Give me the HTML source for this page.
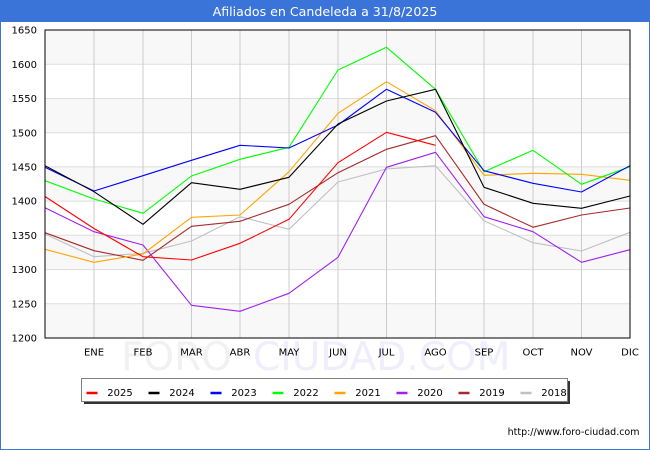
<!DOCTYPE html>
<html>
<head>
<meta charset="utf-8">
<style>
  html, body { margin:0; padding:0; background:#fff; }
  svg { display:block; }
  text { font-family: "DejaVu Sans", "Liberation Sans", sans-serif; }
</style>
</head>
<body>
<svg width="650" height="450" viewBox="0 0 650 450" xmlns="http://www.w3.org/2000/svg">
  <!-- outer frame -->
  <rect x="0" y="0" width="650" height="450" fill="#ffffff"/>
  <rect x="0.5" y="0.5" width="649" height="449" fill="none" stroke="#3a78d6" stroke-width="1"/>
  <!-- title bar -->
  <rect x="0" y="0" width="650" height="22" fill="#3a74d8"/>
  <text x="325" y="16" text-anchor="middle" font-size="12.6" fill="#ffffff">Afiliados en Candeleda a 31/8/2025</text>

  <!-- watermark -->
  <text x="232" y="370" text-anchor="end" font-size="39" fill="#f1f1f1">FORO</text>
  <text x="253" y="370" font-size="39" fill="#eeeefc">CIUDAD.COM</text>

  <!-- plot bands -->
  <rect x="45" y="30" width="585" height="34.2" fill="#f8f8f8"/>
  <rect x="45" y="98.5" width="585" height="34.2" fill="#f8f8f8"/>
  <rect x="45" y="166.9" width="585" height="34.2" fill="#f8f8f8"/>
  <rect x="45" y="235.3" width="585" height="34.3" fill="#f8f8f8"/>
  <rect x="45" y="303.8" width="585" height="34.2" fill="#f8f8f8"/>

  <!-- horizontal grid -->
  <g stroke="#dddddd" stroke-width="1">
    <line x1="45" y1="64.2" x2="630" y2="64.2"/>
    <line x1="45" y1="98.5" x2="630" y2="98.5"/>
    <line x1="45" y1="132.7" x2="630" y2="132.7"/>
    <line x1="45" y1="166.9" x2="630" y2="166.9"/>
    <line x1="45" y1="201.1" x2="630" y2="201.1"/>
    <line x1="45" y1="235.3" x2="630" y2="235.3"/>
    <line x1="45" y1="269.6" x2="630" y2="269.6"/>
    <line x1="45" y1="303.8" x2="630" y2="303.8"/>
  </g>
  <!-- vertical grid -->
  <g stroke="#cccccc" stroke-width="1">
    <line x1="94" y1="30" x2="94" y2="338"/>
    <line x1="143" y1="30" x2="143" y2="338"/>
    <line x1="191.5" y1="30" x2="191.5" y2="338"/>
    <line x1="240" y1="30" x2="240" y2="338"/>
    <line x1="289" y1="30" x2="289" y2="338"/>
    <line x1="338" y1="30" x2="338" y2="338"/>
    <line x1="386.5" y1="30" x2="386.5" y2="338"/>
    <line x1="435.5" y1="30" x2="435.5" y2="338"/>
    <line x1="484" y1="30" x2="484" y2="338"/>
    <line x1="533" y1="30" x2="533" y2="338"/>
    <line x1="581.5" y1="30" x2="581.5" y2="338"/>
  </g>

  <!-- series -->
  <g fill="none" stroke-width="1.1" stroke-linejoin="round">
    <polyline stroke="#c0c0c0" points="45,234 94,256.7 143,253.3 191.5,241 240,216.7 289,229.3 338,182 386.5,169 435.5,165.7 484,220.7 533,242.7 581.5,251 630,232.3"/>
    <polyline stroke="#a52a2a" points="45,232.7 94,250.7 143,260.3 191.5,226.3 240,221.3 289,204.3 338,172.7 386.5,149.3 435.5,135.7 484,204.3 533,227.3 581.5,215 630,208"/>
    <polyline stroke="#a020f0" points="45,207.7 94,231.7 143,245 191.5,305.3 240,311.3 289,293.3 338,257.3 386.5,167.3 435.5,152.3 484,216.7 533,231.7 581.5,262.3 630,249.7"/>
    <polyline stroke="#ffa500" points="45,249.3 94,262.3 143,254 191.5,217.3 240,215 289,171.7 338,113.3 386.5,81.7 435.5,110.7 484,175.3 533,173.3 581.5,174.3 630,180.3"/>
    <polyline stroke="#00ff00" points="45,180.7 94,199 143,213.3 191.5,176 240,159.3 289,147.3 338,70 386.5,47.3 435.5,89.3 484,171.7 533,150.3 581.5,184.3 630,166.7"/>
    <polyline stroke="#0000ff" points="45,167.3 94,191 143,175.7 191.5,160.3 240,145.3 289,148 338,125 386.5,89.3 435.5,112.3 484,170.7 533,183.3 581.5,192 630,165.7"/>
    <polyline stroke="#000000" points="45,165.7 94,191.7 143,224.3 191.5,182.7 240,189.3 289,177.3 338,124 386.5,101 435.5,89.3 484,187.3 533,203.3 581.5,208.3 630,196"/>
    <polyline stroke="#ff0000" points="45,196.5 94,228.5 143,256.7 191.5,260 240,243.3 289,219.3 338,162.7 386.5,132.3 435.5,145.3"/>
  </g>

  <!-- plot border -->
  <rect x="45" y="30" width="585" height="308" fill="none" stroke="#000000" stroke-width="1"/>

  <!-- y labels -->
  <g font-size="10" fill="#000" text-anchor="end">
    <text x="37" y="33.6">1650</text>
    <text x="37" y="67.8">1600</text>
    <text x="37" y="102.1">1550</text>
    <text x="37" y="136.3">1500</text>
    <text x="37" y="170.5">1450</text>
    <text x="37" y="204.7">1400</text>
    <text x="37" y="238.9">1350</text>
    <text x="37" y="273.2">1300</text>
    <text x="37" y="307.4">1250</text>
    <text x="37" y="341.6">1200</text>
  </g>

  <!-- x labels -->
  <g font-size="10" fill="#000" text-anchor="middle">
    <text x="94" y="355.5">ENE</text>
    <text x="143" y="355.5">FEB</text>
    <text x="191.5" y="355.5">MAR</text>
    <text x="240" y="355.5">ABR</text>
    <text x="289" y="355.5">MAY</text>
    <text x="338" y="355.5">JUN</text>
    <text x="386.5" y="355.5">JUL</text>
    <text x="435.5" y="355.5">AGO</text>
    <text x="484" y="355.5">SEP</text>
    <text x="533" y="355.5">OCT</text>
    <text x="581.5" y="355.5">NOV</text>
    <text x="630" y="355.5">DIC</text>
  </g>

  <!-- legend -->
  <rect x="84" y="381" width="486" height="23" fill="#333333"/>
  <rect x="81.5" y="378.5" width="486" height="23" fill="#ffffff" stroke="#808080" stroke-width="1"/>
  <g stroke-width="2.5">
    <line x1="86.5" y1="393" x2="97.5" y2="393" stroke="#ff0000"/>
    <line x1="148.5" y1="393" x2="159.5" y2="393" stroke="#000000"/>
    <line x1="210.5" y1="393" x2="221.5" y2="393" stroke="#0000ff"/>
    <line x1="272.5" y1="393" x2="283.5" y2="393" stroke="#00ff00"/>
    <line x1="334.5" y1="393" x2="345.5" y2="393" stroke="#ffa500"/>
    <line x1="396.5" y1="393" x2="407.5" y2="393" stroke="#a020f0"/>
    <line x1="458.5" y1="393" x2="469.5" y2="393" stroke="#a52a2a"/>
    <line x1="520.5" y1="393" x2="531.5" y2="393" stroke="#c0c0c0"/>
  </g>
  <g font-size="10" fill="#000">
    <text x="107.3" y="396">2025</text>
    <text x="169.3" y="396">2024</text>
    <text x="231.3" y="396">2023</text>
    <text x="293.3" y="396">2022</text>
    <text x="355.3" y="396">2021</text>
    <text x="417.3" y="396">2020</text>
    <text x="479.3" y="396">2019</text>
    <text x="541.3" y="396">2018</text>
  </g>

  <!-- url -->
  <text x="639.5" y="435" text-anchor="end" font-size="9.5" fill="#000">http://www.foro-ciudad.com</text>
</svg>
</body>
</html>
